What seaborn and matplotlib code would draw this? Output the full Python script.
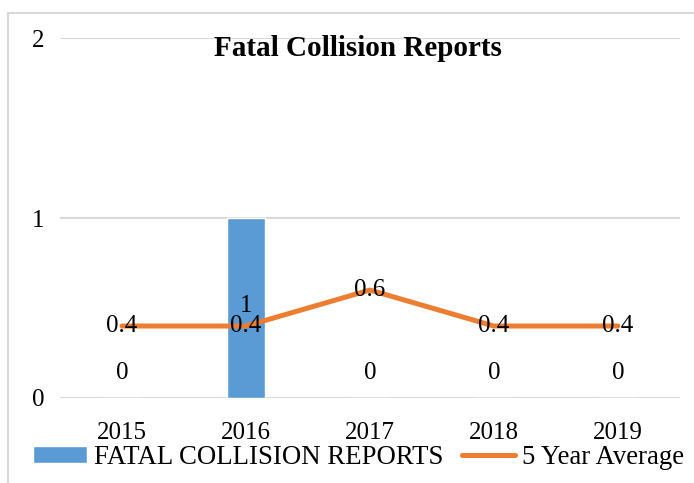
import matplotlib
matplotlib.use("Agg")
import numpy as np
import matplotlib.pyplot as plt
import seaborn as sns
from matplotlib.patches import Rectangle

# Data
years = ["2015", "2016", "2017", "2018", "2019"]
fatal_reports = [0, 1, 0, 0, 0]
five_year_avg = [0.4, 0.4, 0.6, 0.4, 0.4]

blue = "#5B9BD5"
orange = "#ED7D31"

sns.set_style("white")
plt.rcParams["font.family"] = ["Liberation Serif", "DejaVu Serif"]
plt.rcParams["text.color"] = "black"
plt.rcParams["xtick.color"] = "black"
plt.rcParams["ytick.color"] = "black"

fig = plt.figure(figsize=(6.94, 4.83), dpi=100)
ax = fig.add_axes([0.0865, 0.176, 0.893, 0.745])

# outer chart border (clipped at right/bottom like the source)
fig.patches.append(Rectangle((8 / 694, -0.05), 1.0, (483 - 13) / 483 + 0.05,
                             transform=fig.transFigure, fill=False,
                             edgecolor="#D9D9D9", linewidth=1.5))

ax.yaxis.grid(True, color="#D9D9D9", linewidth=1.5)
ax.set_axisbelow(True)

sns.barplot(x=years, y=fatal_reports, color=blue, width=0.31, ax=ax,
            saturation=1, label="FATAL COLLISION REPORTS")
xpos = np.arange(len(years))
sns.lineplot(x=xpos, y=five_year_avg, color=orange, linewidth=3.6, ax=ax,
             label="5 Year Average")

# data labels
for i, v in enumerate(fatal_reports):
    ax.text(i, 0.14 if v == 0 else v * 0.51, f"{v}", ha="center", va="center", fontsize=18)
for i, v in enumerate(five_year_avg):
    ax.text(i, v, f"{v}", ha="center", va="center", fontsize=18)

ax.set_xlim(-0.5, 4.5)
ax.set_ylim(0, 2)
ax.set_yticks([0, 1, 2])
ax.tick_params(axis="both", length=0, labelsize=18)
ax.tick_params(axis="y", pad=11)
ax.tick_params(axis="x", pad=17)
for s in ax.spines.values():
    s.set_visible(False)
ax.set_xlabel("")
ax.set_ylabel("")

fig.text(0.516, 0.90, "Fatal Collision Reports", ha="center", va="center",
         fontsize=21, fontweight="bold")

handles, labels = ax.get_legend_handles_labels()
order = [labels.index("FATAL COLLISION REPORTS"), labels.index("5 Year Average")]
ax.legend_.remove()
fig.legend([handles[k] for k in order], [labels[k] for k in order],
           loc="center left", bbox_to_anchor=(0.048, 0.052),
           ncol=2, frameon=False, fontsize=19.3, handlelength=2.0,
           handleheight=0.6, handletextpad=0.25, columnspacing=0.7,
           borderaxespad=0, borderpad=0)

fig.savefig("out.png", dpi=100)
